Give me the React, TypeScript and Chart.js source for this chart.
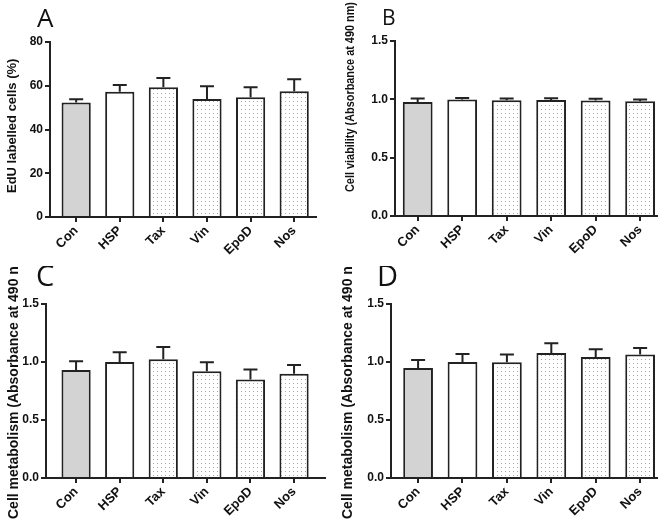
import React, { useEffect, useRef } from "react";
import { Chart, registerables } from "chart.js";

Chart.register(...registerables);

// ---- data ----
const categories = ["Con", "HSP", "Tax", "Vin", "EpoD", "Nos"];

const edUMeans = [52.4, 57.3, 59.3, 54.0, 54.7, 57.5];
const edUErr = [1.4, 3.1, 4.2, 5.8, 4.6, 5.5];

const viabilityMeans = [0.978, 0.998, 0.992, 0.995, 0.989, 0.984];
const viabilityErr = [0.029, 0.014, 0.015, 0.014, 0.015, 0.014];

const metabolismCMeans = [0.932, 1.001, 1.024, 0.921, 0.849, 0.898];
const metabolismCErr = [0.075, 0.083, 0.106, 0.077, 0.086, 0.077];

const metabolismDMeans = [0.949, 1.001, 0.998, 1.078, 1.044, 1.064];
const metabolismDErr = [0.069, 0.069, 0.066, 0.083, 0.066, 0.057];

const yTicksPercent = [0, 20, 40, 60, 80];
const yTicksAbsorbance = [0, 0.5, 1.0, 1.5];

// ---- panel layout / styling ----
type Panel = {
  letter: string;
  title: string;
  means: number[];
  errs: number[];
  yTicks: number[];
  decimals: number;
  left: number; right: number; top: number; bottom: number;
  xMin: number; xMax: number;
  titleX: number; titleBottom: number; titleSize: number; titleMaxWidth?: number;
  letterX: number; letterY: number; letterSize: number;
  pos: [number, number];
};

const panels: Panel[] = [
  {
    letter: "A", title: "EdU labelled cells (%)", means: edUMeans, errs: edUErr,
    yTicks: yTicksPercent, decimals: 0,
    left: 50, right: 316, top: 42, bottom: 217, xMin: -0.6, xMax: 5.5,
    titleX: 12, titleBottom: 193, titleSize: 13,
    letterX: 37, letterY: 27, letterSize: 26, pos: [0, 0],
  },
  {
    letter: "B", title: "Cell viability (Absorbance at 490 nm)", means: viabilityMeans, errs: viabilityErr,
    yTicks: yTicksAbsorbance, decimals: 1,
    left: 63, right: 325, top: 41, bottom: 216, xMin: -0.51, xMax: 5.38,
    titleX: 18, titleBottom: 192, titleSize: 13, titleMaxWidth: 190,
    letterX: 50, letterY: 25, letterSize: 21, pos: [332, 0],
  },
  {
    letter: "C", title: "Cell metabolism (Absorbance at 490 nm)", means: metabolismCMeans, errs: metabolismCErr,
    yTicks: yTicksAbsorbance, decimals: 1,
    left: 46, right: 325, top: 38, bottom: 212, xMin: -0.69, xMax: 5.71,
    titleX: 14, titleBottom: 253, titleSize: 14,
    letterX: 36, letterY: 20, letterSize: 29, pos: [0, 266],
  },
  {
    letter: "D", title: "Cell metabolism (Absorbance at 490 nm)", means: metabolismDMeans, errs: metabolismDErr,
    yTicks: yTicksAbsorbance, decimals: 1,
    left: 59, right: 325, top: 38, bottom: 212, xMin: -0.61, xMax: 5.38,
    titleX: 16, titleBottom: 253, titleSize: 14,
    letterX: 45, letterY: 20, letterSize: 29, pos: [332, 266],
  },
];

const W = 332;
const H = 266;
const INK = "#222222";
const FONT = "'Liberation Sans', Arial, sans-serif";

function makeDotPattern(): CanvasPattern | string {
  const c = document.createElement("canvas");
  c.width = 4;
  c.height = 4;
  const g = c.getContext("2d");
  if (!g) return "#f4f4f4";
  g.fillStyle = "#ffffff";
  g.fillRect(0, 0, 4, 4);
  g.fillStyle = "#a8a8a8";
  g.fillRect(1, 1, 1, 1);
  const p = g.createPattern(c, "repeat");
  return p || "#f4f4f4";
}

function PanelChart({ panel }: { panel: Panel }) {
  const ref = useRef<HTMLCanvasElement | null>(null);

  useEffect(() => {
    if (!ref.current) return;
    const dots = makeDotPattern();
    const fills = categories.map((_, i) => (i === 0 ? "#d3d3d3" : i === 1 ? "#ffffff" : dots));

    const errorBars = {
      id: "errorBars",
      afterDatasetsDraw(chart: any) {
        const ctx = chart.ctx;
        const meta = chart.getDatasetMeta(0);
        const yScale = chart.scales.y;
        ctx.save();
        ctx.strokeStyle = INK;
        ctx.lineWidth = 2;
        panel.means.forEach((m, i) => {
          const bar = meta.data[i];
          const x = bar.x;
          const y0 = yScale.getPixelForValue(m);
          const y1 = yScale.getPixelForValue(m + panel.errs[i]);
          ctx.beginPath();
          ctx.moveTo(x, y0);
          ctx.lineTo(x, y1);
          ctx.moveTo(x - 7, y1);
          ctx.lineTo(x + 7, y1);
          ctx.stroke();
        });
        ctx.restore();
      },
    };

    const annotations = {
      id: "annotations",
      afterDraw(chart: any) {
        const ctx = chart.ctx;
        ctx.save();
        ctx.fillStyle = "#111111";
        ctx.font = `bold ${panel.titleSize}px ${FONT}`;
        ctx.textAlign = "left";
        ctx.textBaseline = "middle";
        ctx.translate(panel.titleX, panel.titleBottom);
        ctx.rotate(-Math.PI / 2);
        if (panel.titleMaxWidth) ctx.fillText(panel.title, 0, 0, panel.titleMaxWidth);
        else ctx.fillText(panel.title, 0, 0);
        ctx.restore();

        ctx.save();
        ctx.fillStyle = "#111111";
        ctx.font = `${panel.letterSize}px 'Open Sans', sans-serif`;
        ctx.textAlign = "left";
        ctx.textBaseline = "alphabetic";
        ctx.fillText(panel.letter, panel.letterX, panel.letterY);
        ctx.restore();
      },
    };

    const chart = new Chart(ref.current, {
      type: "bar",
      data: {
        datasets: [
          {
            data: panel.means.map((v, i) => ({ x: i, y: v })),
            backgroundColor: fills as any,
            borderColor: INK,
            borderWidth: 2,
            barPercentage: 0.67,
            categoryPercentage: 1,
          },
        ],
      },
      options: {
        responsive: false,
        devicePixelRatio: 1,
        animation: false,
        layout: { padding: { left: 0, right: W - panel.right, top: panel.top, bottom: 0 } },
        plugins: { legend: { display: false }, tooltip: { enabled: false }, title: { display: false } },
        scales: {
          x: {
            type: "linear",
            offset: false,
            min: panel.xMin,
            max: panel.xMax,
            z: 1,
            afterBuildTicks: (scale: any) => {
              scale.ticks = categories.map((_, i) => ({ value: i }));
            },
            afterFit: (scale: any) => {
              scale.height = H - panel.bottom;
            },
            grid: { display: true, offset: false, drawOnChartArea: false, drawTicks: true, tickLength: 5, color: INK, lineWidth: 2 },
            border: { display: true, color: INK, width: 2 },
            ticks: {
              autoSkip: false,
              minRotation: 45,
              maxRotation: 45,
              padding: 1,
              color: "#111111",
              font: { family: FONT, size: 13, weight: "bold" },
              callback: (v: any) => categories[Math.round(Number(v))] ?? "",
            },
          },
          y: {
            min: 0,
            max: panel.yTicks[panel.yTicks.length - 1],
            afterBuildTicks: (scale: any) => {
              scale.ticks = panel.yTicks.map((v) => ({ value: v }));
            },
            afterFit: (scale: any) => {
              scale.width = panel.left;
            },
            grid: { display: true, drawOnChartArea: false, drawTicks: true, tickLength: 5, color: INK, lineWidth: 2 },
            border: { display: true, color: INK, width: 2 },
            ticks: {
              padding: 2,
              color: "#111111",
              font: { family: FONT, size: 12, weight: "bold" },
              callback: (v: any) => Number(v).toFixed(panel.decimals),
            },
          },
        },
      },
      plugins: [errorBars, annotations],
    } as any);

    return () => chart.destroy();
  }, [panel]);

  return (
    <div style={{ position: "absolute", left: panel.pos[0], top: panel.pos[1], width: W, height: H }}>
      <canvas ref={ref} width={W} height={H} style={{ display: "block", width: W, height: H }} />
    </div>
  );
}

export default function App() {
  return (
    <div style={{ position: "fixed", left: 0, top: 0, width: 664, height: 532, background: "#ffffff", overflow: "hidden" }}>
      {panels.map((p) => (
        <PanelChart key={p.letter} panel={p} />
      ))}
    </div>
  );
}
